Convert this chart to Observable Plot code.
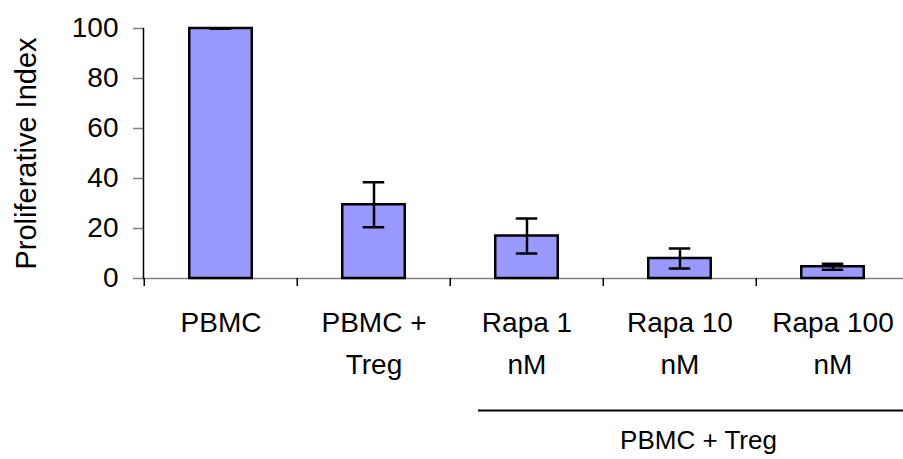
<!DOCTYPE html>
<html>
<head>
<meta charset="utf-8">
<script src="https://cdn.jsdelivr.net/npm/d3@7"></script>
<script src="https://cdn.jsdelivr.net/npm/@observablehq/plot@0.6"></script>
<style>
  html, body { margin: 0; padding: 0; background: #fff; }
  svg { font-family: "Liberation Sans", Arial, sans-serif; display: block; }
</style>
</head>
<body>
<div id="chart"></div>
<script>
const categories = ["PBMC", "PBMC + Treg", "Rapa 1 nM", "Rapa 10 nM", "Rapa 100 nM"];
const tickLabels = ["PBMC\n", "PBMC +\nTreg", "Rapa 1\nnM", "Rapa 10\nnM", "Rapa 100\nnM"];
const values = [100, 29.5, 17, 8, 4.7];
const errors = [0, 9, 7, 4, 1.2];
const yTicks = [0, 20, 40, 60, 80, 100];
const yTitle = "Proliferative Index";
const groupLabel = "PBMC + Treg";
const groupMembers = ["Rapa 1 nM", "Rapa 10 nM", "Rapa 100 nM"];

const data = categories.map((c, i) => ({cat: c, label: tickLabels[i], v: values[i], lo: values[i] - errors[i], hi: values[i] + errors[i]}));

const W = 903, H = 459;
const mL = 143, mR = -7.5;
const step = (W - mR - mL) / categories.length;

const chart = Plot.plot({
  width: W,
  height: H,
  marginLeft: mL,
  marginRight: mR,
  marginTop: 28,
  marginBottom: 181,
  style: {fontFamily: "Liberation Sans, Arial, sans-serif", color: "black", background: "white"},
  x: {domain: categories, padding: 0, axis: null},
  y: {domain: [0, 100], axis: null},
  marks: [
    // y ticks (gray) and labels
    Plot.axisY({ticks: yTicks, tickSize: 10, tickFormat: () => "", label: null, stroke: "#808080", strokeWidth: 1.5}),
    Plot.axisY({ticks: yTicks, tickSize: 0, tickPadding: 25, label: null, fontSize: 28, fill: "black"}),
    // x axis baseline
    Plot.ruleY([0], {stroke: "#808080", strokeWidth: 1.5}),
    // bars
    Plot.barY(data, {x: "cat", y: "v", fill: "#9999ff", stroke: "black", strokeWidth: 2.5, insetLeft: (step - 63) / 2, insetRight: (step - 63) / 2}),
    // error bars
    Plot.ruleX(data, {x: "cat", y1: "lo", y2: "hi", stroke: "black", strokeWidth: 2.5}),
    Plot.tickY(data, {x: "cat", y: "hi", stroke: "black", strokeWidth: 2.5, inset: (step - 22) / 2}),
    Plot.tickY(data, {x: "cat", y: "lo", stroke: "black", strokeWidth: 2.5, inset: (step - 22) / 2}),
    // y axis line
    Plot.frame({anchor: "left", stroke: "black", strokeWidth: 1.5}),
    // category boundary ticks
    Plot.axisX({tickSize: 8, tickFormat: () => "", label: null, dx: -step / 2, stroke: "black", strokeWidth: 1.5}),
    // category labels
    Plot.text(data, {x: "cat", text: "label", frameAnchor: "bottom", lineAnchor: "top", dy: 22.6, fontSize: 28, lineHeight: 1.53, fill: "black"}),
    // group rule and label
    Plot.ruleY([0], {x1: () => groupMembers[0], x2: () => groupMembers[groupMembers.length - 1], dy: 132, insetLeft: 28, insetRight: -163, stroke: "black", strokeWidth: 2}),
    Plot.text([groupLabel], {x: () => groupMembers[1], text: d => d, frameAnchor: "bottom", lineAnchor: "bottom", dy: 170, dx: 18.5, fontSize: 26, fill: "black"}),
    // y title
    Plot.text([yTitle], {text: d => d, frameAnchor: "left", textAnchor: "middle", rotate: -90, dx: -116.5, lineAnchor: "middle", fontSize: 29, fill: "black"})
  ]
});
document.getElementById("chart").appendChild(chart);
</script>
</body>
</html>
